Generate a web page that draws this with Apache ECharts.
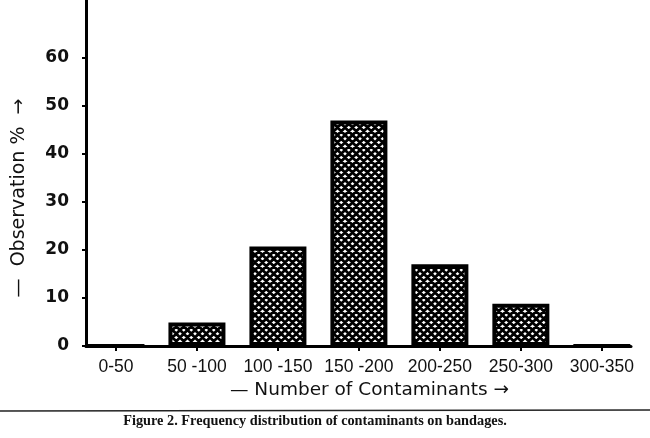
<!DOCTYPE html>
<html>
<head>
<meta charset="utf-8">
<script src="https://cdn.jsdelivr.net/npm/echarts@6/dist/echarts.min.js"></script>
<style>
html,body{margin:0;padding:0;background:#fff;}
#c{width:650px;height:438px;}
</style>
</head>
<body>
<div id="c"></div>
<script>
const categories = ['0-50', '50 -100', '100 -150', '150 -200', '200-250', '250-300', '300-350'];
const observation = [0, 4.9, 20.7, 46.9, 17.0, 8.8, 0];
const yTicks = [0, 10, 20, 30, 40, 50, 60];
const xTitle = '— Number of Contaminants →';
const yTitle = '—  Observation %  →';
const caption = 'Figure 2. Frequency distribution of contaminants on bandages.';

function hatch() {
  const cv = document.createElement('canvas');
  cv.width = 15; cv.height = 15;
  const g = cv.getContext('2d');
  g.fillStyle = '#fff'; g.fillRect(0, 0, 15, 15);
  g.strokeStyle = '#000'; g.lineWidth = 2.8;
  g.beginPath();
  [-15, -7.5, 0, 7.5, 15].forEach(o => {
    g.moveTo(-2 + o, -2); g.lineTo(17 + o, 17);
    g.moveTo(17 + o, -2); g.lineTo(-2 + o, 17);
  });
  g.stroke();
  return cv;
}

const chart = echarts.init(document.getElementById('c'), null, {renderer: 'canvas'});
const txt = '#111';
chart.setOption({
  backgroundColor: '#fff',
  animation: false,
  grid: {left: 86, right: 19, top: 0, bottom: 92},
  xAxis: {
    type: 'value',
    min: -0.37, max: 6.36,
    splitLine: {show: false},
    axisLine: {show: true, lineStyle: {color: '#000', width: 3}},
    axisTick: {show: true, customValues: categories.map((c, i) => i), length: 5, lineStyle: {color: '#000', width: 2}},
    axisLabel: {
      customValues: categories.map((c, i) => i),
      formatter: v => categories[Math.round(v)],
      color: txt, fontFamily: 'Liberation Sans', fontSize: 17.5, margin: 12
    },
    name: xTitle, nameLocation: 'middle', nameGap: 30,
    nameTextStyle: {color: txt, fontFamily: 'DejaVu Sans', fontSize: 18.5, padding: [0, 0, 0, 22]}
  },
  yAxis: {
    type: 'value',
    min: 0, max: 72,
    splitLine: {show: false},
    axisLine: {show: true, onZero: false, lineStyle: {color: '#000', width: 3}},
    axisTick: {show: true, customValues: yTicks, length: 4, lineStyle: {color: '#000', width: 2}},
    axisLabel: {customValues: yTicks, color: txt, fontFamily: 'DejaVu Sans', fontWeight: 'bold', fontSize: 17, margin: 17}
  },
  graphic: [
    {type: 'text', x: 19, y: 198, rotation: Math.PI / 2,
     style: {text: yTitle, fill: txt, font: '19px "DejaVu Sans"', align: 'center', verticalAlign: 'middle'}},
    {type: 'line', shape: {x1: 0, y1: 411, x2: 650, y2: 410}, style: {stroke: '#222', lineWidth: 1.6}},
    {type: 'text', x: 315, y: 421,
     style: {text: caption, fill: '#111', font: 'bold 14.3px "Liberation Serif"', align: 'center', verticalAlign: 'middle'}}
  ],
  series: [{
    type: 'bar',
    data: observation.map((v, i) => [i, v]),
    barWidth: 57,
    itemStyle: {color: {image: hatch(), repeat: 'repeat'}, borderColor: '#000', borderWidth: 4}
  }]
});
</script>
</body>
</html>
